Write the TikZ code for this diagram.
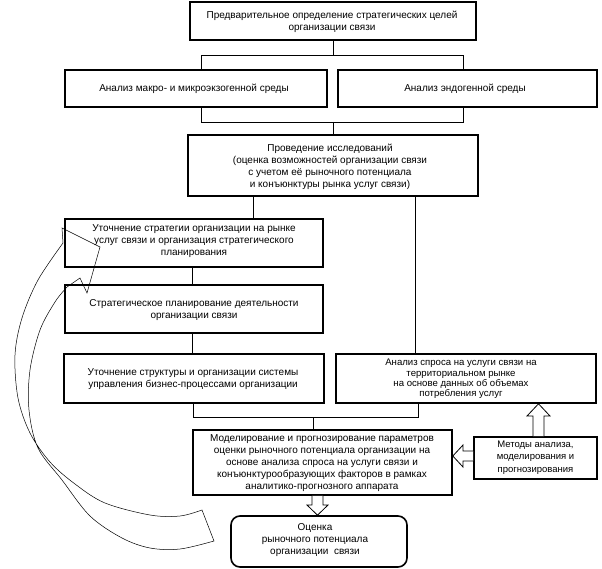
\documentclass[tikz,border=0pt]{standalone}
\usepackage{fontspec}
\setmainfont{Liberation Sans}
\begin{document}
\begin{tikzpicture}[x=1pt,y=-1pt,
  box/.style={draw, line width=1.6pt, inner sep=0pt},
  txt/.style={align=center, font=\fontsize{10}{12}\selectfont, inner sep=0pt},
  conn/.style={line width=0.8pt},
  hollow/.style={line width=0.8pt, fill=white, line join=miter},
  curv/.style={line width=0.5pt}]
\useasboundingbox (0,0) rectangle (602,569);
% boxes
\node[box, minimum width=286pt, minimum height=38pt] (top) at (333,21) {};
\node[txt] at (332,21.5) {Предварительное определение стратегических целей\\организации связи};
\node[box, minimum width=262pt, minimum height=37pt] (macro) at (196,88.5) {};
\node[txt] at (194,88.5) {Анализ макро- и микроэкзогенной среды};
\node[box, minimum width=259pt, minimum height=37pt] (endo) at (467.5,88.5) {};
\node[txt] at (465,88.5) {Анализ эндогенной среды};
\node[box, minimum width=290pt, minimum height=61pt] (research) at (333,165.5) {};
\node[txt] at (330,167) {Проведение исследований\\(оценка возможностей организации связи\\с учетом её рыночного потенциала\\и конъюнктуры рынка услуг связи)};
\node[box, minimum width=258pt, minimum height=48pt] (b1) at (194,243) {};
\node[txt] at (194,241.5) {Уточнение стратегии организации на рынке\\услуг связи и организация стратегического\\планирования};
\node[box, minimum width=258pt, minimum height=48pt] (b2) at (194,309) {};
\node[txt] at (194,310.5) {Стратегическое планирование деятельности\\организации связи};
\node[box, minimum width=260pt, minimum height=49pt] (b3) at (194,378.5) {};
\node[txt] at (193,379) {Уточнение структуры и организации системы\\управления бизнес-процессами организации};
\node[box, minimum width=260pt, minimum height=49pt] (demand) at (466,378.5) {};
\node[txt, font=\fontsize{9.6}{10.4}\selectfont] at (461,379) {Анализ спроса на услуги связи на\\территориальном рынке\\на основе данных об объемах\\потребления услуг};
\node[box, minimum width=259pt, minimum height=65pt] (model) at (322.5,462.5) {};
\node[txt] at (322,463) {Моделирование и прогнозирование параметров\\оценки рыночного потенциала организации на\\основе анализа спроса на услуги связи и\\конъюнктурообразующих факторов в рамках\\аналитико-прогнозного аппарата};
\node[box, minimum width=123pt, minimum height=42pt] (methods) at (535.5,458) {};
\node[txt, font=\fontsize{9.5}{12.5}\selectfont] at (535.5,457.5) {Методы анализа,\\моделирования и\\прогнозирования};
\node[box, rounded corners=9pt, minimum width=176pt, minimum height=51pt] (eval) at (319,541.5) {};
\node[txt] at (315,540) {Оценка\\рыночного потенциала\\организации\ \ связи};
% junctions
\coordinate (jt) at (333,55);
\coordinate (jl) at (201,55);
\coordinate (jr) at (463,55);
\coordinate (kl) at (201,122);
\coordinate (kr) at (463,122);
\coordinate (km) at (333,122);
\coordinate (ma) at (253,0);
\coordinate (mb) at (415,0);
\coordinate (mc) at (192,0);
\coordinate (nl) at (193,417);
\coordinate (nr) at (418,417);
\coordinate (nm) at (313,417);
% connectors
\draw[conn] (top.south -| jt) -- (jt);
\draw[conn] (macro.north -| jl) -- (jl) -- (jr) -- (endo.north -| jr);
\draw[conn] (macro.south -| kl) -- (kl) -- (kr) -- (endo.south -| kr);
\draw[conn] (km) -- (research.north -| km);
\draw[conn] (research.south -| ma) -- (b1.north -| ma);
\draw[conn] (research.south -| mb) -- (demand.north -| mb);
\draw[conn] (b1.south -| mc) -- (b2.north -| mc);
\draw[conn] (b2.south -| mc) -- (b3.north -| mc);
\draw[conn] (b3.south -| nl) -- (nl) -- (nr) -- (demand.south -| nr);
\draw[conn] (nm) -- (model.north -| nm);
% hollow block arrows
\draw[hollow] (model.south -| 312,0) -- (312,505) -- (307,505) -- (eval.north -| 317.5,0) -- (328,505) -- (323,505) -- (model.south -| 323,0);
\draw[hollow] (methods.north -| 533,0) -- (533,416) -- (527,416) -- (demand.south -| 538.5,0) -- (550,416) -- (544,416) -- (methods.north -| 544,0);
\draw[hollow] (methods.west |- 0,451) -- (463,451) -- (463,445) -- (model.east |- 0,456) -- (463,467) -- (463,461) -- (methods.west |- 0,461);
% curved hollow arrow
\draw[curv, line join=miter]
  (214,541) -- plot[smooth, tension=0.55] coordinates {(214,541) (180,549) (150,548) (122,538) (90,516) (62,480) (38,448) (29,410) (30,370) (40,330) (55,302) (67,287)}
  -- (80,278) -- (87,293) -- (100,247) -- (62,228) -- (63,243)
  -- plot[smooth, tension=0.55] coordinates {(63,243) (38,280) (22,318) (15,355) (18,398) (30,433) (50,462) (75,484) (105,503) (150,515) (180,516) (202,510)}
  -- cycle;
\end{tikzpicture}
\end{document}
